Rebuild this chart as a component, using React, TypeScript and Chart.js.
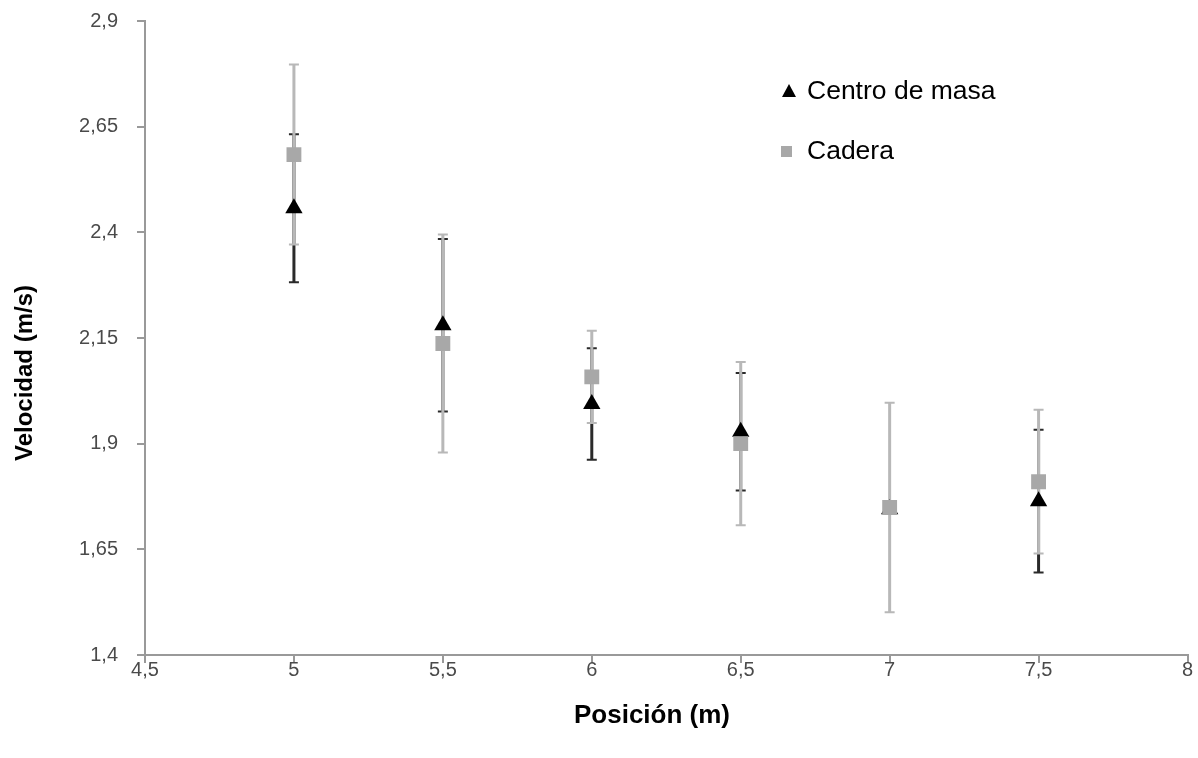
import React, { useEffect, useRef } from "react";
import { Chart, registerables } from "chart.js";

Chart.register(...registerables);

const positions = [5, 5.5, 6, 6.5, 7, 7.5];
const centroMasa = [2.457, 2.18, 1.994, 1.928, 1.745, 1.764];
const centroMasaErr = [0.175, 0.204, 0.132, 0.139, 0.0, 0.169];
const cadera = [2.584, 2.137, 2.058, 1.9, 1.749, 1.81];
const caderaErr = [0.213, 0.258, 0.109, 0.193, 0.248, 0.17];
const xTicks = [4.5, 5, 5.5, 6, 6.5, 7, 7.5, 8];
const yTicks = [1.4, 1.65, 1.9, 2.15, 2.4, 2.65, 2.9];
const xTitle = "Posición (m)";
const yTitle = "Velocidad (m/s)";

const fam = "'Liberation Sans', Arial, sans-serif";
const fmt = (v: number) => String(Math.round(v * 100) / 100).replace(".", ",");

const errorBarPlugin = {
  id: "errorBars",
  beforeDatasetsDraw(chart: any) {
    const ctx = chart.ctx;
    const xs = chart.scales.x;
    const ys = chart.scales.y;
    const draw = (vals: number[], errs: number[], color: string) => {
      ctx.save();
      ctx.strokeStyle = color;
      positions.forEach((p, i) => {
        if (!errs[i]) return;
        const x = xs.getPixelForValue(p);
        const yTop = ys.getPixelForValue(vals[i] + errs[i]);
        const yBot = ys.getPixelForValue(vals[i] - errs[i]);
        ctx.lineWidth = 3;
        ctx.beginPath();
        ctx.moveTo(x, yTop);
        ctx.lineTo(x, yBot);
        ctx.stroke();
        ctx.lineWidth = 2;
        ctx.beginPath();
        ctx.moveTo(x - 5, yTop);
        ctx.lineTo(x + 5, yTop);
        ctx.moveTo(x - 5, yBot);
        ctx.lineTo(x + 5, yBot);
        ctx.stroke();
      });
      ctx.restore();
    };
    draw(centroMasa, centroMasaErr, "#2a2a2a");
    draw(cadera, caderaErr, "#b8b8b8");
  },
};

const labelsPlugin = {
  id: "customLabels",
  afterDraw(chart: any) {
    const ctx = chart.ctx;
    ctx.save();
    ctx.font = `26.5px ${fam}`;
    ctx.textBaseline = "middle";
    ctx.textAlign = "left";
    ctx.fillStyle = "#000";
    const tx = 789, ty = 91;
    ctx.beginPath();
    ctx.moveTo(tx, ty - 7);
    ctx.lineTo(tx + 7, ty + 6);
    ctx.lineTo(tx - 7, ty + 6);
    ctx.closePath();
    ctx.fill();
    ctx.fillText(chart.data.datasets[1].label, 807, 92);
    ctx.fillStyle = "#a8a8a8";
    ctx.fillRect(781, 146, 11, 11);
    ctx.fillStyle = "#000";
    ctx.fillText(chart.data.datasets[0].label, 807, 152);
    ctx.font = `bold 26px ${fam}`;
    ctx.textAlign = "center";
    ctx.fillText(xTitle, 652, 716);
    ctx.translate(25, 373);
    ctx.rotate(-Math.PI / 2);
    ctx.font = `bold 24px ${fam}`;
    ctx.fillText(yTitle, 0, 0);
    ctx.restore();
  },
};

export default function App() {
  const ref = useRef<HTMLCanvasElement>(null);
  useEffect(() => {
    document.body.style.margin = "0";
    const tickFont = { family: fam, size: 20 };
    const chart = new Chart(ref.current!, {
      type: "scatter",
      data: {
        datasets: [
          {
            label: "Cadera",
            data: positions.map((p, i) => ({ x: p, y: cadera[i] })),
            pointStyle: "rect",
            pointRadius: 10.5,
            backgroundColor: "#a8a8a8",
            borderColor: "#a8a8a8",
            borderWidth: 0,
            order: 0,
          },
          {
            label: "Centro de masa",
            data: positions.map((p, i) => ({ x: p, y: centroMasa[i] })),
            pointStyle: "triangle",
            pointRadius: 10,
            backgroundColor: "#000",
            borderColor: "#000",
            borderWidth: 0,
            order: 1,
          },
        ],
      },
      options: {
        animation: false,
        responsive: false,
        maintainAspectRatio: false,
        layout: { padding: { top: 21, right: 10, left: 8, bottom: 20 } },
        plugins: { legend: { display: false }, tooltip: { enabled: false } },
        scales: {
          x: {
            type: "linear",
            min: 4.5,
            max: 8,
            afterBuildTicks: (s: any) => {
              s.ticks = xTicks.map((v) => ({ value: v }));
            },
            ticks: { callback: (v: any) => fmt(Number(v)), color: "#4a4a4a", font: tickFont, padding: -5, maxRotation: 0 },
            grid: { drawOnChartArea: false, tickLength: 8, color: "#999", lineWidth: 2 },
            border: { color: "#999", width: 2 },
            title: { display: false, text: xTitle },
            afterFit: (s: any) => {
              s.height = 758 - 655 - 20;
              s.paddingLeft = 0;
              s.paddingRight = 0;
            },
          },
          y: {
            type: "linear",
            min: 1.4,
            max: 2.9,
            afterBuildTicks: (s: any) => {
              s.ticks = yTicks.map((v) => ({ value: v }));
            },
            ticks: { callback: (v: any) => fmt(Number(v)), color: "#4a4a4a", font: tickFont, padding: 19 },
            grid: { drawOnChartArea: false, tickLength: 8, color: "#999", lineWidth: 2 },
            border: { color: "#999", width: 2 },
            title: { display: false, text: yTitle },
            afterFit: (s: any) => {
              s.width = 145 - 8;
              s.paddingTop = 0;
              s.paddingBottom = 0;
            },
          },
        },
      },
      plugins: [errorBarPlugin, labelsPlugin],
    } as any);
    return () => chart.destroy();
  }, []);
  return (
    <div style={{ position: "absolute", left: 0, top: 0, width: 1198, height: 758 }}>
      <canvas ref={ref} width={1198} height={758} style={{ width: 1198, height: 758 }} />
    </div>
  );
}
